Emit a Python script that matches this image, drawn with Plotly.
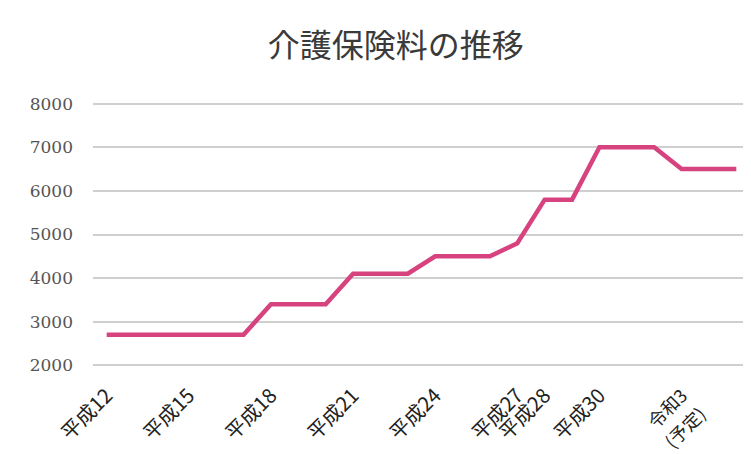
import plotly.graph_objects as go

title_text = "介護保険料の推移"

years = [f"H{y}" for y in range(12, 36)]  # 平成12 (2000) .. 令和5 (2023)
premium = [2700, 2700, 2700, 2700, 2700, 2700,
           3400, 3400, 3400,
           4100, 4100, 4100,
           4500, 4500, 4500,
           4800,
           5800, 5800,
           7000, 7000, 7000,
           6500, 6500, 6500]

tick_categories = ["H12", "H15", "H18", "H21", "H24", "H27", "H28", "H30", "H33"]
tick_labels = ["平成12", "平成15", "平成18", "平成21", "平成24",
               "平成27", "平成28", "平成30",
               "<span style='font-size:18px'>令和3</span><br>"
               "<span style='font-size:18px'>(予定)</span>"]

y_ticks = [2000, 3000, 4000, 5000, 6000, 7000, 8000]

fig = go.Figure()
fig.add_trace(go.Scatter(
    x=years, y=premium, mode="lines",
    line=dict(color="#D6437F", width=4.5),
    hoverinfo="skip", showlegend=False,
))

# page body adds an 8px margin, so the figure is sized to fit the 751x454 window
fig.update_layout(
    width=743, height=446,
    margin=dict(l=85, r=1, t=94, b=87),
    paper_bgcolor="white", plot_bgcolor="white",
    title=dict(text=title_text, x=0.522, xanchor="center", y=0.915, yanchor="middle",
               font=dict(family="Noto Sans CJK JP", size=32, color="#3a3a3a")),
    xaxis=dict(
        type="category", categoryorder="array", categoryarray=years,
        range=[-0.5, len(years) - 0.5], automargin=False,
        tickmode="array", tickvals=tick_categories, ticktext=tick_labels,
        tickangle=-45, showgrid=False, zeroline=False, showline=False,
        ticks="", ticklabelstandoff=12,
        tickfont=dict(family="Noto Sans CJK JP", size=20, color="#222"),
    ),
    yaxis=dict(
        range=[1960, 8040], tickmode="array", tickvals=y_ticks, automargin=False,
        showgrid=True, gridcolor="#cfcfcf", gridwidth=1.5,
        zeroline=False, showline=False, ticks="", ticklabelstandoff=19,
        tickfont=dict(family="DejaVu Serif", size=17, color="#555"),
    ),
)

fig.write_html("out.html")
